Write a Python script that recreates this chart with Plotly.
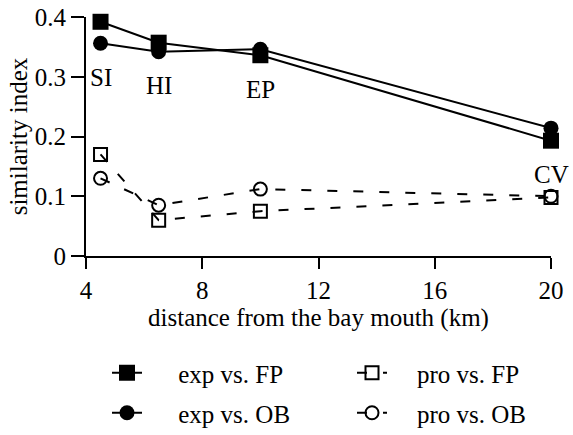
import plotly.graph_objects as go

# data
distance_km = [4.5, 6.5, 10.0, 20.0]
sites = ["SI", "HI", "EP", "CV"]
exp_vs_fp = [0.392, 0.357, 0.336, 0.193]
exp_vs_ob = [0.356, 0.342, 0.346, 0.214]
pro_vs_fp = [0.170, 0.060, 0.075, 0.098]
pro_vs_ob = [0.130, 0.085, 0.112, 0.100]
x_ticks = [4, 8, 12, 16, 20]
y_ticks = [0, 0.1, 0.2, 0.3, 0.4]
y_tick_text = ["0", "0.1", "0.2", "0.3", "0.4"]

FONT = "Liberation Serif"
FS = 25
PAD = "\u00a0" * 5
PAD2 = "\u00a0" * 4

fig = go.Figure()
fig.add_trace(go.Scatter(x=distance_km, y=exp_vs_fp, name=PAD + "exp vs. FP", mode="lines+markers",
                         line=dict(color="black", width=2),
                         marker=dict(symbol="square", size=16, color="black"),
                         cliponaxis=False, legend="legend"))
fig.add_trace(go.Scatter(x=distance_km, y=pro_vs_fp, name=PAD2 + "pro vs. FP", mode="lines+markers",
                         line=dict(color="black", width=2, dash="10px,16px"),
                         marker=dict(symbol="square-open", size=13, color="black", line=dict(width=2)),
                         cliponaxis=False, legend="legend2"))
fig.add_trace(go.Scatter(x=distance_km, y=exp_vs_ob, name=PAD + "exp vs. OB", mode="lines+markers",
                         line=dict(color="black", width=2),
                         marker=dict(symbol="circle", size=15, color="black"),
                         cliponaxis=False, legend="legend3"))
fig.add_trace(go.Scatter(x=distance_km, y=pro_vs_ob, name=PAD2 + "pro vs. OB", mode="lines+markers",
                         line=dict(color="black", width=2, dash="10px,16px"),
                         marker=dict(symbol="circle-open", size=13, color="black", line=dict(width=2)),
                         cliponaxis=False, legend="legend4"))

annotations = []
for xs, s, a, b in zip(distance_km, sites, exp_vs_fp, exp_vs_ob):
    annotations.append(dict(x=xs, y=min(a, b), text=s, showarrow=False, yanchor="middle",
                            yshift=-34, font=dict(family=FONT, size=FS, color="black")))

leg_common = dict(orientation="h", xanchor="left", yanchor="middle",
                  xref="container", yref="container",
                  font=dict(family=FONT, size=FS, color="black"), bgcolor="rgba(0,0,0,0)",
                  itemwidth=30)

col1, col2 = 107 / 573, 352 / 573
row1, row2 = (435 - 373) / 435, (435 - 413) / 435

fig.update_layout(
    width=573, height=435,
    margin=dict(l=86, r=22, t=17, b=179),
    paper_bgcolor="white", plot_bgcolor="white",
    font=dict(family=FONT, size=FS, color="black"),
    showlegend=True,
    legend=dict(x=col1, y=row1, **leg_common),
    legend2=dict(x=col2, y=row1, **leg_common),
    legend3=dict(x=col1, y=row2, **leg_common),
    legend4=dict(x=col2, y=row2, **leg_common),
    annotations=annotations,
    xaxis=dict(range=[4, 20], tickvals=x_ticks, showgrid=False, zeroline=False,
               automargin="bottom",
               showline=True, linecolor="black", linewidth=2, ticks="outside", ticklen=11,
               tickwidth=2, tickcolor="black",
               title=dict(text="distance from the bay mouth (km)", standoff=4,
                          font=dict(family=FONT, size=FS))),
    yaxis=dict(range=[0, 0.4], tickvals=y_ticks, ticktext=y_tick_text, showgrid=False,
               zeroline=False, showline=True, linecolor="black", linewidth=2, ticks="outside",
               automargin="left",
               ticklen=13, tickwidth=2, tickcolor="black",
               title=dict(text="similarity index", standoff=0, font=dict(family=FONT, size=FS))),
)

fig.write_html("out.html")
